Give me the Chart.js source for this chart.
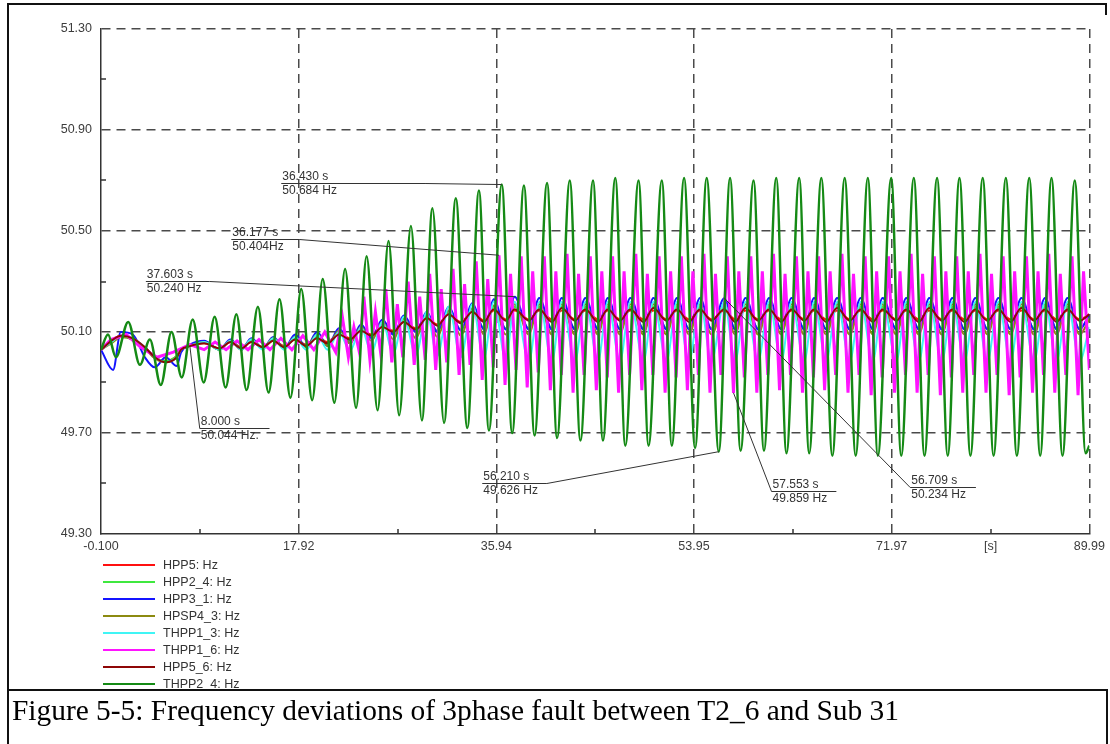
<!DOCTYPE html>
<html>
<head>
<meta charset="utf-8">
<title>Frequency deviations</title>
<script src="https://cdn.jsdelivr.net/npm/chart.js@4.4.1/dist/chart.umd.min.js"></script>
<style>
  body { margin: 0; background: #fff; }
  #page { position: relative; width: 1110px; height: 744px; overflow: hidden; background: #fff; }
  #freqChart { position: absolute; left: 0; top: 0; }
  .frame { position: absolute; background: #111; }
  #legend { position: absolute; left: 103px; top: 557px; font: 12.5px "Liberation Sans", Arial, sans-serif; color: #333; }
  #legend .row { height: 16.9px; display: flex; align-items: center; }
  #legend .swatch { width: 52px; height: 2px; margin-right: 8px; }
  #caption { position: absolute; left: 12px; top: 693px; font: 30px "Liberation Serif", "Times New Roman", serif; color: #000;
             white-space: nowrap; transform: scaleX(0.98); transform-origin: left top; }
</style>
</head>
<body>
<div id="page">
  <canvas id="freqChart" width="1110" height="560"></canvas>
  <div id="legend"></div>
  <div class="frame" style="left:7px; top:3px; width:1100px; height:2px;"></div>
  <div class="frame" style="left:7px; top:3px; width:2px; height:741px;"></div>
  <div class="frame" style="left:1105px; top:3px; width:2px; height:12px;"></div>
  <div class="frame" style="left:7px; top:689px; width:1101px; height:2px;"></div>
  <div class="frame" style="left:1106px; top:689px; width:2px; height:55px;"></div>
  <div id="caption">Figure 5-5: Frequency deviations of 3phase fault between T2_6 and Sub 31</div>
</div>

<script>
// axis ticks
const xTickValues = [-0.1, 17.92, 35.94, 53.95, 71.97, 80.98, 89.99];
const xTickLabels = ['-0.100', '17.92', '35.94', '53.95', '71.97', '[s]', '89.99'];
const yTickValues = [49.3, 49.7, 50.1, 50.5, 50.9, 51.3];
const xMinorTicks = [8.91, 26.93, 44.95, 62.96, 80.98];
const yMinorTicks = [49.5, 49.9, 50.3, 50.7, 51.1];

const seriesNames = ['HPP5: Hz', 'HPP2_4: Hz', 'HPP3_1: Hz', 'HPSP4_3: Hz', 'THPP1_3: Hz', 'THPP1_6: Hz', 'HPP5_6: Hz', 'THPP2_4: Hz'];
const seriesColors = ['#ff1010', '#3fe83f', '#1414ff', '#8c8a10', '#40f5f5', '#ff14ff', '#8e0606', '#158a15'];

// THPP2_4 swing: time of each peak / trough [s] and its value [Hz]
const thpp2_4T = [-0.1, 0.54, 1.26, 2.38, 3.45, 4.35, 5.35, 6.33, 7.26, 8.26,
  9.26, 10.26, 11.26, 12.24, 13.17, 14.20, 15.17, 16.17, 17.17, 18.15,
  19.15, 20.11, 21.17, 22.15, 23.15, 24.11, 25.11, 26.11, 27.08, 28.15,
  29.15, 30.11, 31.17, 32.24, 33.29, 34.35, 35.26, 36.43, 37.38, 38.45,
  39.42, 40.56, 41.47, 42.63, 43.60, 44.75, 45.65, 46.78, 47.69, 48.90,
  49.81, 51.02, 51.93, 53.05, 54.05, 55.11, 56.21, 57.24, 58.20, 59.38,
  60.33, 61.45, 62.38, 63.54, 64.45, 65.56, 66.56, 67.69, 68.69, 69.80,
  70.71, 71.93, 72.84, 73.99, 74.96, 76.11, 77.08, 78.15, 79.15, 80.27,
  81.26, 82.38, 83.38, 84.51, 85.51, 86.54, 87.54, 88.66, 89.65, 89.99];
const thpp2_4 = [50.03, 50.09, 50.00, 50.14, 49.97, 50.07, 49.89, 50.10, 49.92, 50.15,
  49.90, 50.16, 49.88, 50.17, 49.87, 50.20, 49.86, 50.23, 49.84, 50.27,
  49.83, 50.31, 49.82, 50.35, 49.80, 50.40, 49.79, 50.46, 49.77, 50.52,
  49.75, 50.59, 49.74, 50.63, 49.72, 50.66, 49.71, 50.684, 49.70, 50.68,
  49.69, 50.69, 49.68, 50.70, 49.67, 50.70, 49.67, 50.71, 49.65, 50.70,
  49.65, 50.70, 49.65, 50.71, 49.64, 50.71, 49.626, 50.71, 49.63, 50.70,
  49.63, 50.71, 49.62, 50.71, 49.62, 50.71, 49.61, 50.71, 49.61, 50.71,
  49.61, 50.71, 49.61, 50.71, 49.61, 50.71, 49.61, 50.71, 49.61, 50.71,
  49.61, 50.71, 49.61, 50.71, 49.61, 50.71, 49.61, 50.70, 49.62, 49.65];

// the other HPP units swing together, against THPP2_4
const busT = [-0.1, 1.0, 1.7, 2.8, 3.9, 4.8, 5.8, 6.8, 7.2, 8.0,
  9.3, 10.7, 11.7, 12.7, 13.6, 14.65, 15.6, 16.6, 17.6, 18.6,
  19.6, 20.55, 21.6, 22.6, 23.6, 24.55, 25.55, 26.55, 27.5, 28.6,
  29.6, 30.55, 31.6, 32.7, 33.75, 34.8, 35.7, 36.8, 37.603, 38.9,
  39.85, 41.0, 41.9, 43.1, 44.05, 45.2, 46.1, 47.2, 48.15, 49.35,
  50.25, 51.45, 52.4, 53.5, 54.5, 55.55, 56.709, 57.7, 58.65, 59.8,
  60.8, 61.9, 62.85, 64.0, 64.9, 66.0, 67.0, 68.15, 69.15, 70.25,
  71.15, 72.4, 73.3, 74.45, 75.4, 76.55, 77.5, 78.6, 79.6, 80.7,
  81.7, 82.8, 83.8, 84.95, 85.95, 87.0, 88.0, 89.1, 89.99];

const hpp5 = [50.03, 50.07, 50.085, 50.07, 50.04, 50.00, 49.985, 50.005, 50.03, 50.045,
  50.055, 50.035, 50.06, 50.04, 50.06, 50.04, 50.065, 50.045, 50.07, 50.05,
  50.08, 50.06, 50.095, 50.075, 50.11, 50.09, 50.125, 50.105, 50.14, 50.115,
  50.155, 50.13, 50.17, 50.14, 50.18, 50.145, 50.185, 50.15, 50.185, 50.15,
  50.185, 50.15, 50.185, 50.15, 50.185, 50.15, 50.185, 50.15, 50.185, 50.15,
  50.185, 50.15, 50.185, 50.15, 50.185, 50.15, 50.185, 50.15, 50.185, 50.15,
  50.185, 50.15, 50.185, 50.15, 50.185, 50.15, 50.185, 50.15, 50.185, 50.15,
  50.185, 50.15, 50.185, 50.15, 50.185, 50.15, 50.185, 50.15, 50.185, 50.15,
  50.185, 50.15, 50.185, 50.15, 50.185, 50.15, 50.185, 50.15, 50.17];

const hpp2_4 = [50.03, 50.065, 50.08, 50.07, 50.035, 50.00, 49.985, 50.005, 50.03, 50.045,
  50.06, 50.03, 50.065, 50.035, 50.065, 50.035, 50.07, 50.04, 50.075, 50.045,
  50.085, 50.05, 50.10, 50.065, 50.115, 50.08, 50.13, 50.09, 50.15, 50.10,
  50.165, 50.105, 50.18, 50.11, 50.19, 50.115, 50.20, 50.115, 50.20, 50.115,
  50.20, 50.115, 50.20, 50.115, 50.20, 50.115, 50.20, 50.115, 50.20, 50.115,
  50.20, 50.115, 50.20, 50.115, 50.20, 50.115, 50.20, 50.115, 50.20, 50.115,
  50.20, 50.115, 50.20, 50.115, 50.20, 50.115, 50.20, 50.115, 50.20, 50.115,
  50.20, 50.115, 50.20, 50.115, 50.20, 50.115, 50.20, 50.115, 50.20, 50.115,
  50.20, 50.115, 50.20, 50.115, 50.20, 50.115, 50.20, 50.115, 50.16];

const hpp3_1 = [50.03, 49.95, 50.10, 50.09, 50.00, 49.96, 50.00, 49.965, 50.02, 50.05,
  50.065, 50.03, 50.07, 50.03, 50.075, 50.035, 50.08, 50.035, 50.09, 50.04,
  50.10, 50.045, 50.115, 50.055, 50.13, 50.075, 50.15, 50.09, 50.165, 50.10,
  50.18, 50.10, 50.20, 50.105, 50.215, 50.11, 50.23, 50.11, 50.24, 50.11,
  50.235, 50.11, 50.235, 50.11, 50.235, 50.11, 50.235, 50.11, 50.235, 50.11,
  50.235, 50.11, 50.235, 50.11, 50.235, 50.11, 50.234, 50.11, 50.235, 50.11,
  50.235, 50.11, 50.235, 50.11, 50.235, 50.11, 50.235, 50.11, 50.235, 50.11,
  50.235, 50.11, 50.235, 50.11, 50.235, 50.11, 50.235, 50.11, 50.235, 50.11,
  50.235, 50.11, 50.235, 50.11, 50.235, 50.11, 50.235, 50.11, 50.17];

const hpsp4_3 = [50.03, 50.06, 50.08, 50.07, 50.035, 49.995, 49.98, 50.00, 50.03, 50.045,
  50.06, 50.03, 50.065, 50.03, 50.07, 50.035, 50.075, 50.035, 50.08, 50.04,
  50.09, 50.045, 50.105, 50.055, 50.12, 50.065, 50.14, 50.07, 50.155, 50.075,
  50.17, 50.08, 50.185, 50.085, 50.195, 50.09, 50.205, 50.09, 50.21, 50.09,
  50.21, 50.09, 50.21, 50.09, 50.21, 50.09, 50.21, 50.09, 50.21, 50.09,
  50.21, 50.09, 50.21, 50.09, 50.21, 50.09, 50.21, 50.09, 50.21, 50.09,
  50.21, 50.09, 50.21, 50.09, 50.21, 50.09, 50.21, 50.09, 50.21, 50.09,
  50.21, 50.09, 50.21, 50.09, 50.21, 50.09, 50.21, 50.09, 50.21, 50.09,
  50.21, 50.09, 50.21, 50.09, 50.21, 50.09, 50.21, 50.09, 50.15];

const thpp1_3 = [50.03, 50.065, 50.085, 50.075, 50.04, 50.00, 49.98, 50.00, 50.03, 50.045,
  50.06, 50.03, 50.065, 50.03, 50.07, 50.03, 50.075, 50.03, 50.08, 50.03,
  50.09, 50.03, 50.10, 50.025, 50.12, 50.02, 50.14, 50.015, 50.16, 50.01,
  50.18, 50.005, 50.20, 50.00, 50.21, 49.995, 50.22, 49.99, 50.22, 49.985,
  50.22, 49.985, 50.22, 49.985, 50.22, 49.985, 50.22, 49.985, 50.22, 49.985,
  50.22, 49.985, 50.22, 49.985, 50.22, 49.985, 50.22, 49.985, 50.22, 49.985,
  50.22, 49.985, 50.22, 49.985, 50.22, 49.985, 50.22, 49.985, 50.22, 49.985,
  50.22, 49.985, 50.22, 49.985, 50.22, 49.985, 50.22, 49.985, 50.22, 49.985,
  50.22, 49.985, 50.22, 49.985, 50.22, 49.985, 50.22, 49.985, 50.12];

const hpp5_6 = [50.03, 50.07, 50.085, 50.075, 50.04, 50.00, 49.98, 50.00, 50.03, 50.044,
  50.055, 50.035, 50.06, 50.035, 50.06, 50.04, 50.065, 50.04, 50.07, 50.045,
  50.075, 50.055, 50.09, 50.07, 50.105, 50.085, 50.12, 50.10, 50.14, 50.11,
  50.155, 50.125, 50.17, 50.135, 50.18, 50.14, 50.19, 50.145, 50.19, 50.145,
  50.19, 50.14, 50.195, 50.145, 50.19, 50.14, 50.19, 50.145, 50.19, 50.14,
  50.195, 50.145, 50.19, 50.14, 50.19, 50.145, 50.19, 50.14, 50.195, 50.145,
  50.19, 50.14, 50.19, 50.145, 50.19, 50.14, 50.195, 50.145, 50.19, 50.14,
  50.19, 50.145, 50.19, 50.14, 50.195, 50.145, 50.19, 50.14, 50.19, 50.145,
  50.19, 50.14, 50.195, 50.145, 50.19, 50.14, 50.19, 50.145, 50.17];

// THPP1_6 has a double spike each swing once the oscillation builds up
const thpp1_6T = [-0.1, 0.8, 2.2, 3.5, 5.0, 6.5, 8.0, 9.3, 10.3, 11.3,
  12.3, 13.3, 14.3, 15.3, 16.3, 17.3, 18.3, 19.3, 20.3, 21.3,
  21.90, 22.45, 22.95, 23.45, 23.86, 24.41, 24.91, 25.41, 25.86, 26.41,
  26.91, 27.41, 27.90, 28.45, 28.95, 29.45, 29.86, 30.41, 30.91, 31.41,
  31.99, 32.54, 33.04, 33.54, 34.10, 34.65, 35.15, 35.65, 36.177, 36.73,
  37.23, 37.73, 38.20, 38.75, 39.25, 39.75, 40.31, 40.86, 41.36, 41.86,
  42.38, 42.93, 43.43, 43.93, 44.50, 45.05, 45.55, 46.05, 46.53, 47.08,
  47.58, 48.08, 48.65, 49.20, 49.70, 50.20, 50.77, 51.32, 51.82, 52.32,
  52.80, 53.35, 53.85, 54.35, 54.86, 55.41, 55.91, 56.41, 56.99, 57.553,
  58.04, 58.54, 59.13, 59.68, 60.18, 60.68, 61.20, 61.75, 62.25, 62.75,
  63.29, 63.84, 64.34, 64.84, 65.31, 65.86, 66.36, 66.86, 67.44, 67.99,
  68.49, 68.99, 69.55, 70.10, 70.60, 71.10, 71.68, 72.23, 72.73, 73.23,
  73.74, 74.29, 74.79, 75.29, 75.86, 76.41, 76.91, 77.41, 77.90, 78.45,
  78.95, 79.45, 80.02, 80.57, 81.07, 81.57, 82.13, 82.68, 83.18, 83.68,
  84.26, 84.81, 85.31, 85.81, 86.29, 86.84, 87.34, 87.84, 88.41, 88.96,
  89.46, 89.99];
const thpp1_6 = [50.03, 50.07, 50.09, 50.04, 50.00, 50.02, 50.05, 50.03, 50.06, 50.03,
  50.065, 50.03, 50.07, 50.03, 50.075, 50.03, 50.085, 50.03, 50.10, 50.02,
  50.16, 50.00, 50.12, 50.02, 50.24, 49.99, 50.18, 50.01, 50.27, 49.98,
  50.21, 50.00, 50.30, 49.97, 50.24, 49.99, 50.33, 49.95, 50.27, 49.98,
  50.35, 49.93, 50.29, 49.97, 50.38, 49.91, 50.31, 49.96, 50.404, 49.89,
  50.33, 49.95, 50.40, 49.88, 50.34, 49.94, 50.40, 49.87, 50.34, 49.93,
  50.41, 49.86, 50.33, 49.93, 50.40, 49.87, 50.34, 49.92, 50.40, 49.86,
  50.34, 49.93, 50.41, 49.87, 50.33, 49.93, 50.40, 49.86, 50.34, 49.92,
  50.40, 49.87, 50.34, 49.93, 50.41, 49.86, 50.33, 49.93, 50.40, 49.859,
  50.34, 49.92, 50.40, 49.86, 50.34, 49.93, 50.41, 49.87, 50.33, 49.93,
  50.40, 49.86, 50.34, 49.92, 50.40, 49.87, 50.34, 49.93, 50.41, 49.86,
  50.33, 49.93, 50.40, 49.85, 50.34, 49.92, 50.40, 49.86, 50.34, 49.93,
  50.41, 49.86, 50.33, 49.93, 50.40, 49.85, 50.34, 49.92, 50.40, 49.86,
  50.34, 49.93, 50.41, 49.86, 50.33, 49.93, 50.40, 49.85, 50.34, 49.92,
  50.40, 49.86, 50.34, 49.93, 50.41, 49.86, 50.33, 49.93, 50.40, 49.85,
  50.34, 49.95];

// cursor read-outs
const noteText = [['36.430 s', '50.684 Hz'], ['36.177 s', '50.404Hz'], ['37.603 s', '50.240 Hz'],
  ['8.000 s', '50.044 Hz.'], ['56.210 s', '49.626 Hz'], ['57.553 s', '49.859 Hz'], ['56.709 s', '50.234 Hz']];
const noteTime = [36.43, 36.177, 37.603, 8.0, 56.21, 57.553, 56.709];
const noteFreq = [50.684, 50.404, 50.24, 50.044, 49.626, 49.859, 50.234];

// where each read-out box sits (left end and right end of the rule, in axis units)
const noteBoxes = [
  { t0: 16.33, t1: 29.44, f: 50.689, leaderFrom: 'end' },
  { t0: 11.78, t1: 17.99, f: 50.467, leaderFrom: 'end' },
  { t0: 3.99, t1: 9.81, f: 50.302, leaderFrom: 'end' },
  { t0: 8.90, t1: 15.26, f: 49.719, leaderFrom: 'start' },
  { t0: 34.65, t1: 40.54, f: 49.501, leaderFrom: 'end' },
  { t0: 61.02, t1: 66.93, f: 49.472, leaderFrom: 'start' },
  { t0: 73.66, t1: 79.65, f: 49.488, leaderFrom: 'start' }
];

const tickFont = { family: '"Liberation Sans", Arial, sans-serif', size: 12.5 };
const gridColor = '#4a4a4a';
const clear = 'rgba(0,0,0,0)';

function points(ts, vs) {
  return ts.map((t, i) => ({ x: t, y: vs[i] }));
}

const seriesTimes = [busT, busT, busT, busT, busT, thpp1_6T, busT, thpp2_4T];
const seriesValues = [hpp5, hpp2_4, hpp3_1, hpsp4_3, thpp1_3, thpp1_6, hpp5_6, thpp2_4];

const datasets = seriesNames.map((name, i) => ({
  label: name,
  data: points(seriesTimes[i], seriesValues[i]),
  borderColor: seriesColors[i],
  borderWidth: i === 5 ? 3 : (i === 7 ? 2.5 : 2),
  pointRadius: 0,
  cubicInterpolationMode: i === 5 ? 'default' : 'monotone',
  tension: i === 5 ? 0 : 0.4,
  order: seriesNames.length - i
}));

// small inward ticks between the labelled ones
const axisStubs = {
  id: 'axisStubs',
  afterDraw(chart) {
    const { ctx, chartArea, scales: { x, y } } = chart;
    ctx.save();
    ctx.strokeStyle = '#333';
    ctx.lineWidth = 1.5;
    ctx.beginPath();
    xMinorTicks.forEach(v => {
      const px = Math.round(x.getPixelForValue(v));
      ctx.moveTo(px, chartArea.bottom);
      ctx.lineTo(px, chartArea.bottom - 5);
    });
    yMinorTicks.forEach(v => {
      const py = Math.round(y.getPixelForValue(v));
      ctx.moveTo(chartArea.left, py);
      ctx.lineTo(chartArea.left + 5, py);
    });
    ctx.stroke();
    ctx.restore();
  }
};

// underlined read-outs with a leader to the sampled point
const readouts = {
  id: 'readouts',
  afterDatasetsDraw(chart) {
    const { ctx, scales: { x, y } } = chart;
    ctx.save();
    ctx.strokeStyle = '#333';
    ctx.fillStyle = '#333';
    ctx.lineWidth = 1;
    ctx.font = '12px "Liberation Sans", Arial, sans-serif';
    noteBoxes.forEach((box, i) => {
      const x0 = x.getPixelForValue(box.t0);
      const x1 = x.getPixelForValue(box.t1);
      const ly = Math.round(y.getPixelForValue(box.f)) + 0.5;
      const tx = x.getPixelForValue(noteTime[i]);
      const ty = y.getPixelForValue(noteFreq[i]);
      const sx = box.leaderFrom === 'end' ? x1 : x0;
      ctx.beginPath();
      ctx.moveTo(x0, ly);
      ctx.lineTo(x1, ly);
      ctx.moveTo(sx, ly);
      ctx.lineTo(tx, ty);
      ctx.stroke();
      ctx.textAlign = 'left';
      ctx.textBaseline = 'bottom';
      ctx.fillText(noteText[i][0], x0 + 1, ly - 0.5);
      ctx.textBaseline = 'top';
      ctx.fillText(noteText[i][1], x0 + 1, ly + 1);
    });
    ctx.restore();
  }
};

const chart = new Chart(document.getElementById('freqChart'), {
  type: 'line',
  data: { datasets: datasets },
  options: {
    responsive: false,
    animation: false,
    devicePixelRatio: 1,
    layout: { padding: { top: 29, right: 18, left: 0, bottom: 0 } },
    plugins: { legend: { display: false }, tooltip: { enabled: false } },
    scales: {
      x: {
        type: 'linear',
        min: -0.1,
        max: 89.99,
        afterBuildTicks: scale => { scale.ticks = xTickValues.map(v => ({ value: v })); },
        afterFit: scale => { scale.height = 26; },
        ticks: {
          autoSkip: false,
          maxRotation: 0,
          padding: 5,
          color: '#3c3c3c',
          font: tickFont,
          callback: (value, index) => xTickLabels[index]
        },
        grid: {
          drawTicks: false,
          lineWidth: 1.5,
          color: c => (c.index === 0 || xTickLabels[c.index] === '[s]') ? clear : gridColor
        },
        border: { display: true, color: '#333', width: 1.5, dash: [9, 6] }
      },
      y: {
        type: 'linear',
        min: 49.3,
        max: 51.3,
        afterBuildTicks: scale => { scale.ticks = yTickValues.map(v => ({ value: v })); },
        afterFit: scale => { scale.width = 101; },
        ticks: {
          padding: 9,
          color: '#3c3c3c',
          font: tickFont,
          callback: value => value.toFixed(2)
        },
        grid: {
          drawTicks: false,
          lineWidth: 1.5,
          color: c => c.index === 0 ? clear : gridColor
        },
        border: { display: true, color: '#333', width: 1.5, dash: [9, 6] }
      }
    }
  },
  plugins: [axisStubs, readouts]
});

// legend list under the plot
const legend = document.getElementById('legend');
chart.data.datasets.forEach(ds => {
  const row = document.createElement('div');
  row.className = 'row';
  const swatch = document.createElement('span');
  swatch.className = 'swatch';
  swatch.style.background = ds.borderColor;
  const label = document.createElement('span');
  label.textContent = ds.label;
  row.appendChild(swatch);
  row.appendChild(label);
  legend.appendChild(row);
});
</script>
</body>
</html>
